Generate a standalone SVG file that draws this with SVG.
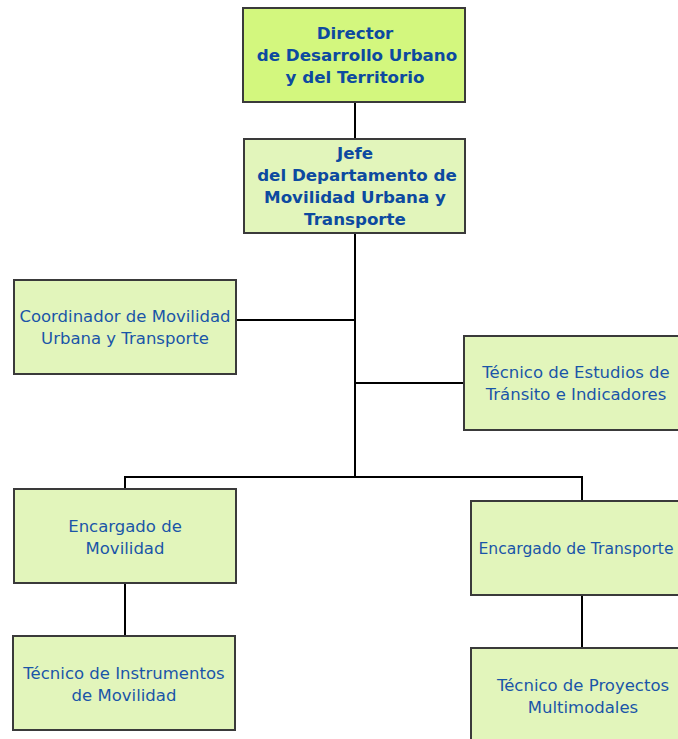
<svg xmlns="http://www.w3.org/2000/svg" width="678" height="739" viewBox="0 0 678 739">
<style>
.box{fill:#e2f5bb;stroke:#3a3a3a;stroke-width:2}
.top{fill:#d3f77e}
.t{font-family:"DejaVu Sans",Verdana,sans-serif;font-size:16.5px;fill:#1a55a8;text-anchor:middle}
.b{font-weight:bold;font-size:16.7px;fill:#0d4aa0}
.c{stroke:#000;stroke-width:2;fill:none}
</style>
<rect width="678" height="739" fill="#fff"/>
<g id="connectors">
<path class="c" d="M355 102V139M355 233V477M236 320H355M355 383H464M125 489V477H582V501M125 583V636M582 595V648"/>
</g>
<g id="director">
<rect class="box top" x="243" y="8" width="222" height="94"/>
<text class="t b" x="355" y="39">Director</text>
<text class="t b" x="357" y="61">de Desarrollo Urbano</text>
<text class="t b" x="355" y="83">y del Territorio</text>
</g>
<g id="jefe">
<rect class="box" x="244" y="139" width="221" height="94"/>
<text class="t b" x="355" y="159">Jefe</text>
<text class="t b" x="357" y="181">del Departamento de</text>
<text class="t b" x="355" y="203">Movilidad Urbana y</text>
<text class="t b" x="355" y="225">Transporte</text>
</g>
<g id="coordinador">
<rect class="box" x="14" y="280" width="222" height="94"/>
<text class="t" x="125" y="322">Coordinador de Movilidad</text>
<text class="t" x="125" y="344">Urbana y Transporte</text>
</g>
<g id="tecnico-estudios">
<rect class="box" x="464" y="336" width="226" height="94"/>
<text class="t" x="576" y="378">Técnico de Estudios de</text>
<text class="t" x="576" y="400">Tránsito e Indicadores</text>
</g>
<g id="encargado-movilidad">
<rect class="box" x="14" y="489" width="222" height="94"/>
<text class="t" x="125" y="532">Encargado de</text>
<text class="t" x="125" y="554">Movilidad</text>
</g>
<g id="encargado-transporte">
<rect class="box" x="471" y="501" width="222" height="94"/>
<text class="t" x="576" y="554" style="font-size:15.6px">Encargado de Transporte</text>
</g>
<g id="tecnico-instrumentos">
<rect class="box" x="13" y="636" width="222" height="94"/>
<text class="t" x="124" y="679">Técnico de Instrumentos</text>
<text class="t" x="124" y="701">de Movilidad</text>
</g>
<g id="tecnico-proyectos">
<rect class="box" x="471" y="648" width="222" height="94"/>
<text class="t" x="583" y="691">Técnico de Proyectos</text>
<text class="t" x="583" y="713">Multimodales</text>
</g>
</svg>
